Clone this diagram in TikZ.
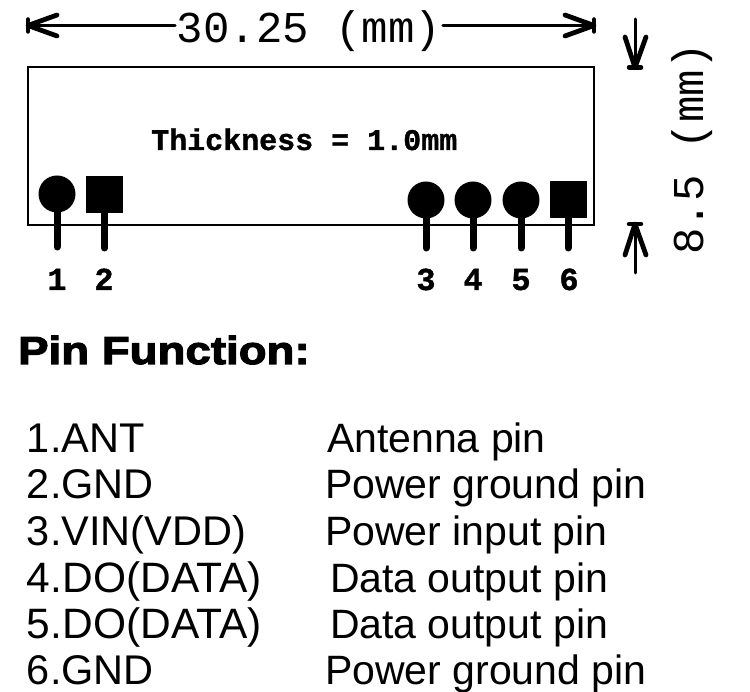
\documentclass[tikz,border=0pt]{standalone}
\usepackage{fontspec}
\setmainfont{Liberation Sans}
\newfontfamily\cadfont{Liberation Mono}
\newfontfamily\cadbold[FakeBold=1.2]{Liberation Mono Bold}
\newfontfamily\blackfont[FakeBold=3,FakeStretch=1.17]{Liberation Sans Bold}
\tikzset{
  txt/.style={anchor=base west,inner sep=0pt,outer sep=0pt,font=\fontsize{41}{44}\selectfont},
  txtl/.style={anchor=base west,inner sep=0pt,outer sep=0pt,font=\fontsize{41.5}{44}\selectfont},
  txtd/.style={anchor=base west,inner sep=0pt,outer sep=0pt,font=\fontsize{42.5}{44}\selectfont},
  pinnum/.style={inner sep=0pt,anchor=base,font=\cadbold\fontsize{32}{34}\selectfont},
  round pad/.style={circle,fill=black,inner sep=0pt,minimum size=37pt},
  square pad/.style={rectangle,fill=black,inner sep=0pt,minimum size=37pt},
  lead/.style={line width=7pt,line cap=round},
  dimline/.style={line width=3.4pt,line cap=round},
  arrowhead/.style={line width=4.8pt,line cap=round,line join=round},
  endbar/.style={line width=4.5pt,line cap=round},
  cad/.style={inner sep=0pt,outer sep=2pt,font=\cadfont\fontsize{44}{46}\selectfont},
}
\begin{document}
\begin{tikzpicture}[x=1pt,y=-1pt]
\useasboundingbox (0,0) rectangle (750,692);
\draw[line width=2.8pt] (28,67) rectangle (594,225);
% horizontal dimension
\node[cad,anchor=base] (dimw) at (309,43) {30.25 (mm)};
\coordinate (wl) at (28,25.5);
\coordinate (wr) at (594,25.5);
\draw[dimline] (wl) -- (dimw.west |- wl);
\draw[dimline] (dimw.east |- wr) -- (wr);
\draw[arrowhead] (57,15) -- (wl) -- (57,36);
\draw[arrowhead] (565,15) -- (wr) -- (565,36);
\draw[endbar] (wl) ++(0,-6) -- ++(0,12);
\draw[endbar] (wr) ++(0,-6) -- ++(0,12);
% vertical dimension
\node[cad,rotate=90,anchor=base] (dimh) at (703,149) {8.5 (mm)};
\coordinate (dt) at (635,67.5);
\coordinate (dts) at (635,19);
\coordinate (ub) at (635,224);
\coordinate (ubs) at (635,273);
\draw[line width=3pt,line cap=round] (dts) -- (dt);
\draw[arrowhead] (625,37) -- (dt) -- (646,37);
\draw[endbar] (dt) ++(-6,0) -- ++(12,0);
\draw[line width=3pt,line cap=round] (ubs) -- (ub);
\draw[arrowhead] (625,255) -- (ub) -- (646,255);
\draw[endbar] (ub) ++(-6,0) -- ++(12,0);
% thickness
\node[inner sep=0pt,anchor=base west,font=\cadbold\fontsize{30}{32}\selectfont] (thick) at (151,150) {Thickness = 1.0mm};
% pads
\node[round pad] (p1) at (57,194) {};
\node[square pad] (p2) at (104.5,194.5) {};
\node[round pad] (p3) at (426,200) {};
\node[round pad] (p4) at (473,200) {};
\node[round pad] (p5) at (521,200) {};
\node[square pad] (p6) at (568,200) {};
\coordinate (e1) at (56.5,247);
\coordinate (e2) at (104,248);
\coordinate (e3) at (427,248);
\coordinate (e4) at (474,248);
\coordinate (e5) at (522,248);
\coordinate (e6) at (569,248);
\foreach \i in {1,...,6} \draw[lead] (p\i.center |- e\i) -- (p\i.center);
\node[pinnum] (n1) at (57,290) {1};
\node[pinnum] (n2) at (104,290) {2};
\node[pinnum] (n3) at (426,290) {3};
\node[pinnum] (n4) at (473,290) {4};
\node[pinnum] (n5) at (521,290) {5};
\node[pinnum] (n6) at (569,290) {6};
% pin function
\node[inner sep=0pt,anchor=base west,font=\blackfont\fontsize{39}{41}\selectfont] (pf) at (18,364) {Pin Function:};
\node[txtl] (a1) at (27,452.5) {1.ANT};
\node[txtl] (a2) at (27,499) {2.GND};
\node[txtl] (a3) at (27,545.5) {3.VIN(VDD)};
\node[txtd] (a4) at (27,592) {4.DO(DATA)};
\node[txtd] (a5) at (27,638) {5.DO(DATA)};
\node[txtl] (a6) at (27,684) {6.GND};
\node[txt] (b1) at (327,452.5) {Antenna pin};
\node[txt] (b2) at (325,499) {Power ground pin};
\node[txt] (b3) at (325,545.5) {Power input pin};
\node[txt] (b4) at (330,592) {Data output pin};
\node[txt] (b5) at (330,638) {Data output pin};
\node[txt] (b6) at (325,684) {Power ground pin};
\end{tikzpicture}
\end{document}
